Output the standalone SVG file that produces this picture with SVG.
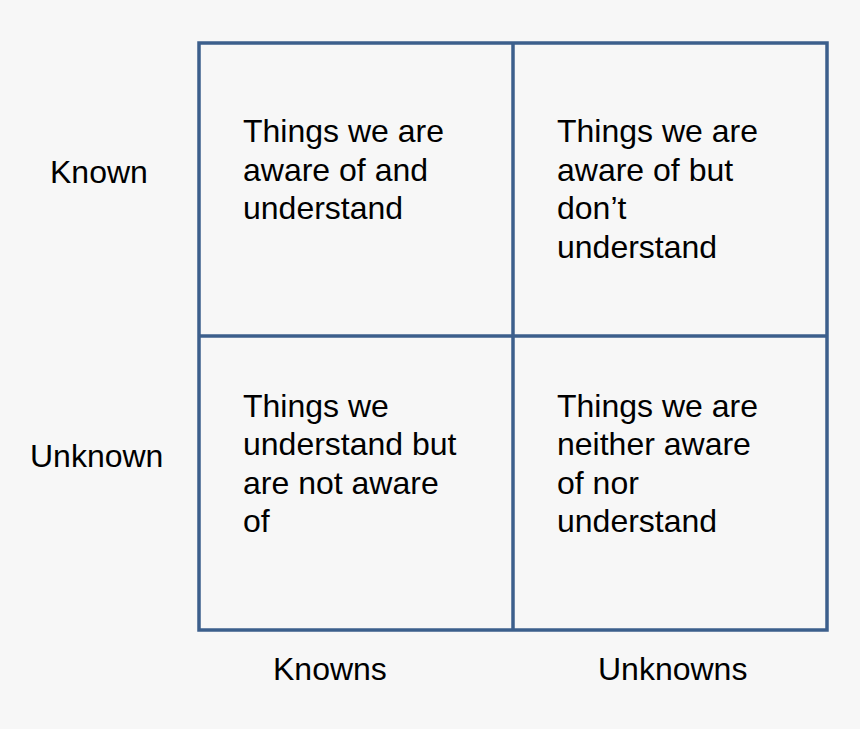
<svg xmlns="http://www.w3.org/2000/svg" width="860" height="729" viewBox="0 0 860 729">
<style>
text{font-family:"Liberation Sans",Arial,sans-serif;font-size:32px;fill:#000}
.ln{stroke:#3c5f8c;stroke-width:3.5;fill:none}
</style>
<rect width="860" height="729" fill="#f7f7f7"/>
<g id="connectors">
<rect class="ln" x="199" y="43" width="628" height="587"/>
<line class="ln" x1="513" y1="43" x2="513" y2="630"/>
<line class="ln" x1="199" y1="336" x2="827" y2="336"/>
</g>
<g id="q1"><text x="243" y="142">Things we are</text><text x="243" y="180.5">aware of and</text><text x="243" y="219">understand</text></g>
<g id="q2"><text x="557" y="142">Things we are</text><text x="557" y="180.5">aware of but</text><text x="557" y="219">don’t</text><text x="557" y="257.5">understand</text></g>
<g id="q3"><text x="243" y="416.5">Things we</text><text x="243" y="455">understand but</text><text x="243" y="493.5">are not aware</text><text x="243" y="532">of</text></g>
<g id="q4"><text x="557" y="416.5">Things we are</text><text x="557" y="455">neither aware</text><text x="557" y="493.5">of nor</text><text x="557" y="532">understand</text></g>
<g id="lbl-known"><text x="50" y="183">Known</text></g>
<g id="lbl-unknown"><text x="30" y="467">Unknown</text></g>
<g id="lbl-knowns"><text x="273" y="680">Knowns</text></g>
<g id="lbl-unknowns"><text x="598" y="680">Unknowns</text></g>
</svg>
